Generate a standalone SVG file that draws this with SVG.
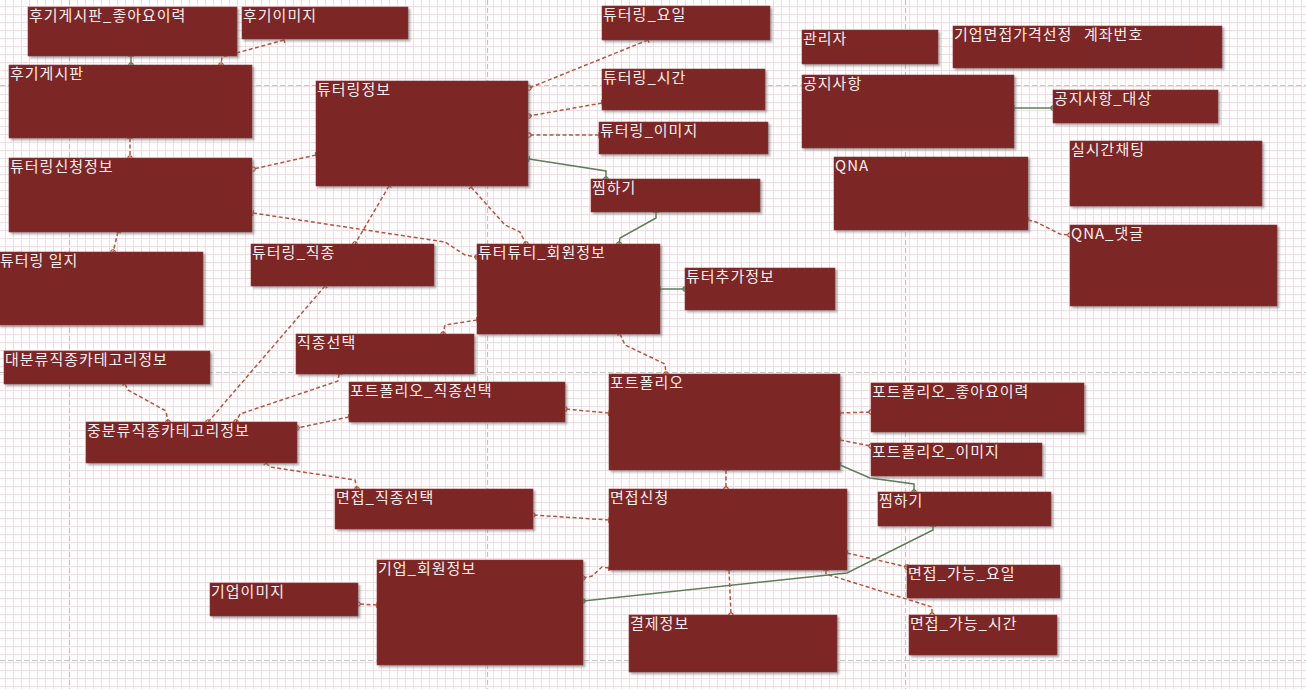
<svg xmlns="http://www.w3.org/2000/svg" width="1306" height="689" viewBox="0 0 1306 689">
  <defs>
    <pattern id="grid" patternUnits="userSpaceOnUse" x="0" y="0" width="8" height="8">
      <rect width="8" height="8" fill="#ffffff"/>
      <line x1="5.5" y1="0" x2="5.5" y2="8" stroke="#f3dde2" stroke-width="1"/>
      <line x1="0" y1="6.5" x2="8" y2="6.5" stroke="#f3dde2" stroke-width="1"/>
    </pattern>
    <filter id="shadow" x="-5%" y="-5%" width="115%" height="125%">
      <feDropShadow dx="2" dy="2" stdDeviation="1.2" flood-color="#6a6a6a" flood-opacity="0.55"/>
    </filter>
    <marker id="dotR" markerUnits="userSpaceOnUse" markerWidth="8" markerHeight="8" refX="4" refY="4" orient="auto">
      <circle cx="4" cy="4" r="2.2" fill="none" stroke="#b4563f" stroke-width="1.2"/>
    </marker>
    <marker id="barR" markerUnits="userSpaceOnUse" markerWidth="8" markerHeight="8" refX="4" refY="4" orient="auto">
      <path d="M4,1 L4,7" stroke="#b4563f" stroke-width="1.4"/>
    </marker>
    <marker id="dotG" markerUnits="userSpaceOnUse" markerWidth="8" markerHeight="8" refX="4" refY="4" orient="auto">
      <circle cx="4" cy="4" r="2.2" fill="none" stroke="#5e7e5c" stroke-width="1.2"/>
    </marker>
    <marker id="barG" markerUnits="userSpaceOnUse" markerWidth="8" markerHeight="8" refX="4" refY="4" orient="auto">
      <path d="M4,1 L4,7" stroke="#5e7e5c" stroke-width="1.4"/>
    </marker>
  </defs>
  <style>
    .page { stroke: #c4c4c4; stroke-width: 1.2; stroke-dasharray: 5 3; fill: none; }
    .box { fill: #7c2727; stroke: #8d3a3a; stroke-width: 0.6; filter: url(#shadow); }
    .flat { fill: #7c2727; }
    .lbl { fill: #f6eeee; font-family: "Noto Sans CJK KR", "Noto Sans", sans-serif; font-size: 15px; letter-spacing: 1px; }
    .rel { fill: none; stroke: #b4563f; stroke-width: 1.5; stroke-dasharray: 4 2.5; marker-start: url(#barR); marker-end: url(#dotR); }
    .idf { fill: none; stroke: #5e7e5c; stroke-width: 1.5; marker-start: url(#barG); marker-end: url(#dotG); }
  </style>

  <!-- sheet background: fine grid and page boundaries -->
  <rect width="1306" height="689" fill="url(#grid)"/>
  <g id="page-breaks">
    <line class="page" x1="69.5" y1="0" x2="69.5" y2="689"/>
    <line class="page" x1="487.5" y1="0" x2="487.5" y2="689"/>
    <line class="page" x1="905.5" y1="0" x2="905.5" y2="689"/>
    <line class="page" x1="0" y1="85.5" x2="1306" y2="85.5"/>
    <line class="page" x1="0" y1="372.5" x2="1306" y2="372.5"/>
    <line class="page" x1="0" y1="660.5" x2="1306" y2="660.5"/>
  </g>

  <!-- relationships -->
  <g id="connectors">
    <path class="idf" d="M131,56 L131,65"/>
    <path class="rel" d="M284,40 L222,57 L221,65"/>
    <path class="rel" d="M130,138 L130,158"/>
    <path class="rel" d="M316,155 L253,169"/>
    <path class="rel" d="M253,213 L445,242 L465,255 L477,257"/>
    <path class="rel" d="M118,232 L113,252"/>
    <path class="rel" d="M389,186 L355,244"/>
    <path class="rel" d="M471,187 L505,225 L520,232 L526,244"/>
    <path class="rel" d="M648,40 L529,88"/>
    <path class="rel" d="M602,103 L529,116"/>
    <path class="rel" d="M599,135 L529,135"/>
    <path class="idf" d="M529,159 L606,171 L606,179"/>
    <path class="idf" d="M656,212 L656,218 L620,238 L619,244"/>
    <path class="idf" d="M660,289 L685,289"/>
    <path class="rel" d="M477,320 L445,325 L443,334"/>
    <path class="rel" d="M620,334 L625,345 L665,364 L666,374"/>
    <path class="rel" d="M325,286 L208,422"/>
    <path class="rel" d="M125,384 L128,390 L166,411 L168,422"/>
    <path class="rel" d="M339,374 L338,381 L240,414 L236,422"/>
    <path class="rel" d="M349,417 L297,428"/>
    <path class="rel" d="M609,413 L565,409"/>
    <path class="rel" d="M266,463 L270,467 L355,480 L357,489"/>
    <path class="rel" d="M609,520 L533,515"/>
    <path class="rel" d="M726,470 L726,489"/>
    <path class="rel" d="M840,413 L871,412"/>
    <path class="rel" d="M840,440 L871,446"/>
    <path class="idf" d="M840,465 L870,478 L914,484 L914,492"/>
    <path class="idf" d="M933,526 L933,530 L847,573 L583,601"/>
    <path class="rel" d="M609,568 L602,567 L592,576 L583,578"/>
    <path class="rel" d="M377,605 L358,604"/>
    <path class="rel" d="M729,570 L731,615"/>
    <path class="rel" d="M847,553 L907,567"/>
    <path class="rel" d="M826,570 L826,574 L932,607 L932,615"/>
    <path class="idf" d="M1014,108 L1053,108"/>
    <path class="rel" d="M1028,220 L1036,222 L1060,234 L1070,235"/>
  </g>

  <!-- entities -->
  <g id="review-like"><rect class="box" x="28" y="7" width="209" height="49"/><text class="lbl" x="29" y="21">후기게시판_좋아요이력</text></g>
  <g id="review-image"><rect class="box" x="242" y="7" width="166" height="32"/><text class="lbl" x="243" y="21">후기이미지</text></g>
  <g id="review-board"><rect class="box" x="9" y="65" width="243" height="73"/><text class="lbl" x="10" y="79">후기게시판</text></g>
  <g id="tutoring-apply"><rect class="box" x="9" y="158" width="243" height="74"/><text class="lbl" x="10" y="172">튜터링신청정보</text></g>
  <g id="tutoring-log"><rect class="box" x="-2" y="252" width="205" height="73"/><text class="lbl" x="0" y="266">튜터링 일지</text></g>
  <g id="tutoring-info"><rect class="box" x="316" y="81" width="212" height="105"/><text class="lbl" x="317" y="95">튜터링정보</text></g>
  <g id="tutoring-day"><rect class="box" x="602" y="6" width="168" height="34"/><text class="lbl" x="603" y="20">튜터링_요일</text></g>
  <g id="tutoring-time"><rect class="box" x="602" y="69" width="163" height="41"/><text class="lbl" x="603" y="83">튜터링_시간</text></g>
  <g id="tutoring-image"><rect class="box" x="599" y="122" width="169" height="32"/><text class="lbl" x="600" y="136">튜터링_이미지</text></g>
  <g id="wish-tutoring"><rect class="box" x="591" y="179" width="169" height="33"/><text class="lbl" x="592" y="193">찜하기</text></g>
  <g id="admin"><rect class="box" x="802" y="30" width="136" height="34"/><text class="lbl" x="803" y="44">관리자</text></g>
  <g id="price-select"><rect class="box" x="953" y="26" width="269" height="42"/><text class="lbl" x="954" y="40">기업면접가격선정</text></g>
  <g id="account-no"><rect class="flat" x="1083" y="27" width="108" height="40"/><text class="lbl" x="1084" y="40">계좌번호</text></g>
  <g id="notice"><rect class="box" x="802" y="75" width="212" height="73"/><text class="lbl" x="803" y="89">공지사항</text></g>
  <g id="notice-target"><rect class="box" x="1053" y="90" width="165" height="33"/><text class="lbl" x="1054" y="104">공지사항_대상</text></g>
  <g id="live-chat"><rect class="box" x="1070" y="141" width="192" height="65"/><text class="lbl" x="1071" y="155">실시간채팅</text></g>
  <g id="qna"><rect class="box" x="834" y="157" width="194" height="73"/><text class="lbl" x="835" y="171">QNA</text></g>
  <g id="qna-comment"><rect class="box" x="1070" y="225" width="207" height="81"/><text class="lbl" x="1071" y="239">QNA_댓글</text></g>
  <g id="tutoring-job"><rect class="box" x="251" y="244" width="183" height="42"/><text class="lbl" x="252" y="258">튜터링_직종</text></g>
  <g id="member"><rect class="box" x="477" y="244" width="183" height="90"/><text class="lbl" x="478" y="258">튜터튜티_회원정보</text></g>
  <g id="tutor-extra"><rect class="box" x="685" y="268" width="150" height="42"/><text class="lbl" x="686" y="282">튜터추가정보</text></g>
  <g id="job-select"><rect class="box" x="296" y="334" width="178" height="40"/><text class="lbl" x="297" y="348">직종선택</text></g>
  <g id="category-major"><rect class="box" x="4" y="351" width="206" height="33"/><text class="lbl" x="5" y="365">대분류직종카테고리정보</text></g>
  <g id="portfolio-job"><rect class="box" x="349" y="382" width="216" height="40"/><text class="lbl" x="350" y="396">포트폴리오_직종선택</text></g>
  <g id="category-middle"><rect class="box" x="86" y="422" width="211" height="41"/><text class="lbl" x="87" y="436">중분류직종카테고리정보</text></g>
  <g id="portfolio"><rect class="box" x="609" y="374" width="231" height="96"/><text class="lbl" x="610" y="388">포트폴리오</text></g>
  <g id="portfolio-like"><rect class="box" x="871" y="383" width="213" height="49"/><text class="lbl" x="872" y="397">포트폴리오_좋아요이력</text></g>
  <g id="portfolio-image"><rect class="box" x="871" y="443" width="171" height="33"/><text class="lbl" x="872" y="457">포트폴리오_이미지</text></g>
  <g id="wish-portfolio"><rect class="box" x="878" y="492" width="173" height="34"/><text class="lbl" x="879" y="506">찜하기</text></g>
  <g id="interview-job"><rect class="box" x="335" y="489" width="198" height="40"/><text class="lbl" x="336" y="503">면접_직종선택</text></g>
  <g id="interview-apply"><rect class="box" x="609" y="489" width="238" height="81"/><text class="lbl" x="610" y="503">면접신청</text></g>
  <g id="company-member"><rect class="box" x="377" y="560" width="206" height="105"/><text class="lbl" x="378" y="574">기업_회원정보</text></g>
  <g id="company-image"><rect class="box" x="210" y="583" width="148" height="33"/><text class="lbl" x="211" y="597">기업이미지</text></g>
  <g id="payment"><rect class="box" x="629" y="615" width="208" height="57"/><text class="lbl" x="630" y="629">결제정보</text></g>
  <g id="interview-day"><rect class="box" x="907" y="565" width="153" height="33"/><text class="lbl" x="908" y="579">면접_가능_요일</text></g>
  <g id="interview-time"><rect class="box" x="909" y="615" width="148" height="40"/><text class="lbl" x="910" y="629">면접_가능_시간</text></g>
</svg>
